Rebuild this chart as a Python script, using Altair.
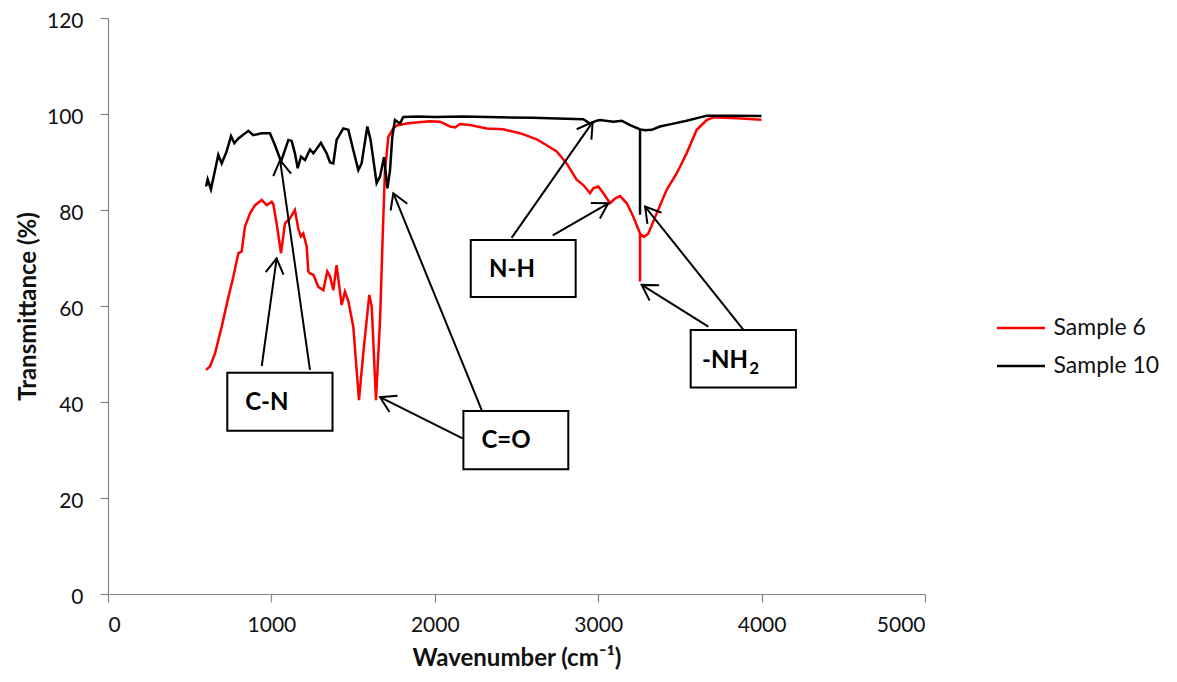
import math
import altair as alt
import pandas as pd

# ---------------- data ----------------
wn_s6 = [600, 624, 655, 696, 737, 767, 798, 818, 838, 869, 900, 941, 971, 1002, 1012,
         1032, 1059, 1083, 1114, 1144, 1165, 1181, 1195, 1216, 1226, 1236, 1257, 1287,
         1318, 1342, 1359, 1379, 1399, 1430, 1450, 1471, 1501, 1536, 1562, 1599, 1614,
         1640, 1665, 1681, 1695, 1716, 1746, 1767, 1828, 1900, 1971, 2032, 2093, 2124,
         2154, 2215, 2318, 2419, 2521, 2624, 2685, 2746, 2807, 2868, 2909, 2950, 2970,
         3001, 3032, 3072, 3103, 3134, 3175, 3215, 3256, 3256, 3256, 3280, 3307, 3358,
         3419, 3480, 3541, 3603, 3664, 3705, 3850, 3999]
tr_s6 = [46.7, 47.4, 50.1, 55.7, 61.9, 66.1, 71.0, 71.3, 76.5, 79.3, 81.0, 82.1, 81.0, 81.7, 81.2,
         77.2, 71.0, 77.2, 78.3, 80.0, 76.0, 74.5, 75.1, 72.4, 67.2, 66.8, 66.5, 64.0,
         63.3, 67.2, 66.1, 63.3, 68.5, 60.2, 63.0, 61.0, 55.7, 40.4, 50.1, 62.3, 59.9,
         40.4, 57.1, 74.4, 88.3, 95.3, 97.0, 97.6, 98.0, 98.3, 98.5, 98.4, 97.4, 97.2,
         97.9, 97.7, 97.0, 96.8, 96.0, 94.7, 93.5, 92.2, 89.7, 86.3, 85.2, 83.5, 84.5,
         84.9, 83.5, 81.4, 82.4, 82.9, 81.4, 78.6, 75.1, 65.1, 75.1, 74.4, 75.1, 79.3,
         84.2, 87.6, 91.8, 96.7, 98.75, 99.3, 99.1, 98.8]

wn_s10 = [600, 610, 630, 655, 675, 696, 726, 753, 773, 798, 859, 889, 941, 991, 1022,
          1059, 1104, 1124, 1144, 1161, 1181, 1206, 1236, 1257, 1303, 1338, 1359, 1379,
          1399, 1440, 1471, 1501, 1532, 1552, 1587, 1607, 1644, 1665, 1689, 1710, 1726,
          1740, 1756, 1787, 1807, 1900, 2000, 2175, 2400, 2600, 2800, 2909, 2950, 2991,
          3011, 3093, 3144, 3195, 3256, 3256, 3256, 3290, 3328, 3378, 3460, 3541, 3623,
          3664, 3827, 3999]
tr_s10 = [84.9, 86.4, 84.3, 88.3, 91.5, 89.7, 92.2, 95.4, 93.9, 94.9, 96.5, 95.6, 96.0, 96.0, 93.5,
          90.1, 94.6, 94.4, 91.8, 88.7, 91.1, 90.4, 92.6, 91.8, 94.0, 91.8, 89.9, 89.7,
          94.6, 97.0, 96.7, 92.5, 88.3, 89.7, 97.4, 94.6, 85.6, 87.0, 91.0, 84.5, 88.3,
          95.3, 98.75, 98.0, 99.4, 99.5, 99.4, 99.5, 99.3, 99.2, 99.0, 98.9, 98.0, 98.6,
          98.75, 98.4, 98.6, 97.7, 96.8, 79.0, 96.8, 96.6, 96.7, 97.4, 98.0, 98.6, 99.3,
          99.65, 99.65, 99.6]

series_names = ["Sample 6", "Sample 10"]
series_colors = ["#FF0000", "#000000"]

# annotation boxes (data units)
box_x1 = [730, 2175, 2220, 3566]
box_x2 = [1374, 2817, 2862, 4210]
box_y1 = [34.0, 26.0, 61.9, 43.0]
box_y2 = [46.1, 38.1, 73.75, 55.0]

# centred labels
lab_text = ["C-N", "C=O", "N-H"]
lab_x = [972, 2436, 2473]
lab_y = [38.3, 30.35, 66.1]
# -NH2 label (main part + subscript)
nh_text = ["-NH"]
nh_x = [3917]
nh_y = [47.0]
sub_text = ["2"]
sub_x = [3925]
sub_y = [45.8]

# arrows: tail -> tip
arr_x0 = [941, 1236, 2170, 2287, 2470, 2722, 3674, 3888]
arr_y0 = [47.5, 46.7, 32.4, 38.3, 74.2, 74.7, 55.7, 55.1]
arr_x1 = [1032, 1053, 1665, 1746, 2966, 3062, 3266, 3287]
arr_y1 = [69.9, 90.4, 41.0, 83.5, 98.3, 81.4, 64.4, 80.7]

x_ticks = [0, 1000, 2000, 3000, 4000, 5000]
y_ticks = [0, 20, 40, 60, 80, 100, 120]

# ---------------- chart ----------------
W, H = 817, 576
XMAX, YMAX = 5000, 120
FONT = "Lato"

rows = []
for i, (w, t) in enumerate(zip(wn_s6, tr_s6)):
    rows.append({"series": "Sample 6", "wn": w, "tr": t, "idx": i})
for i, (w, t) in enumerate(zip(wn_s10, tr_s10)):
    rows.append({"series": "Sample 10", "wn": w, "tr": t, "idx": i})
df = pd.DataFrame(rows)

xs = alt.Scale(domain=[0, XMAX], nice=False, zero=False)
ys = alt.Scale(domain=[0, YMAX], nice=False)
xaxis = alt.Axis(values=x_ticks, title="Wavenumber (cm⁻¹)", grid=False,
                 tickSize=8, labelPadding=12, titlePadding=11, format="d")
yaxis = alt.Axis(values=y_ticks, title="Transmittance (%)", grid=False,
                 tickSize=8, labelPadding=17, titlePadding=6, format="d", labelOffset=3)


def X(f):
    return alt.X(f, type="quantitative", scale=xs, axis=xaxis)


def Y(f):
    return alt.Y(f, type="quantitative", scale=ys, axis=yaxis)


lines = alt.Chart(df).mark_line(strokeWidth=2.5).encode(
    x=X("wn"),
    y=Y("tr"),
    color=alt.Color("series:N",
                    scale=alt.Scale(domain=series_names, range=series_colors),
                    sort=series_names,
                    legend=alt.Legend(title=None, orient="none", legendX=887.5, legendY=284.5,
                                      symbolType="stroke", symbolSize=2304, symbolStrokeWidth=2.5,
                                      labelFont=FONT, labelFontSize=23, labelColor="#111",
                                      labelOffset=7, rowPadding=-4, padding=0)),
    order=alt.Order("idx:Q"),
)

boxes_df = pd.DataFrame({"x1": box_x1, "x2": box_x2, "y1": box_y1, "y2": box_y2})
boxes = alt.Chart(boxes_df).mark_rect(fill="white", stroke="black", strokeWidth=2).encode(
    x=X("x1"), x2="x2", y=Y("y1"), y2="y2")

labs_df = pd.DataFrame({"t": lab_text, "x": lab_x, "y": lab_y})
labs = alt.Chart(labs_df).mark_text(font=FONT, fontWeight="bold", fontSize=24, align="center",
                                    baseline="alphabetic", color="black").encode(
    x=X("x"), y=Y("y"), text="t:N")

nh_df = pd.DataFrame({"t": nh_text, "x": nh_x, "y": nh_y})
nh = alt.Chart(nh_df).mark_text(font=FONT, fontWeight="bold", fontSize=24, align="right",
                                baseline="alphabetic", color="black").encode(
    x=X("x"), y=Y("y"), text="t:N")
sub_df = pd.DataFrame({"t": sub_text, "x": sub_x, "y": sub_y})
sub = alt.Chart(sub_df).mark_text(font=FONT, fontWeight="bold", fontSize=17, align="left",
                                  baseline="alphabetic", color="black").encode(
    x=X("x"), y=Y("y"), text="t:N")

angles = []
for x0, y0, x1, y1 in zip(arr_x0, arr_y0, arr_x1, arr_y1):
    dx = (x1 - x0) * W / XMAX
    dy = -(y1 - y0) * H / YMAX
    angles.append(math.degrees(math.atan2(dx, -dy)) % 360)

arr_df = pd.DataFrame({"x0": arr_x0, "y0": arr_y0, "x1": arr_x1, "y1": arr_y1, "ang": angles})
shafts = alt.Chart(arr_df).mark_rule(color="black", strokeWidth=2).encode(
    x=X("x0"), y=Y("y0"), x2="x1", y2="y1")
heads = alt.Chart(arr_df).mark_point(shape="M -0.6 1 L 0 0 L 0.6 1", filled=False,
                                     stroke="black", strokeWidth=2, size=900, opacity=1).encode(
    x=X("x1"), y=Y("y1"), angle=alt.Angle("ang:Q", scale=None))

chart = alt.layer(lines, shafts, heads, boxes, labs, nh, sub).properties(
    width=W, height=H,
    autosize=alt.AutoSizeParams(type="none"),
    padding={"left": 100, "top": 10, "right": 244, "bottom": 80},
).configure_view(stroke=None).configure_axis(
    labelFont=FONT, labelFontSize=21, labelColor="#111",
    titleFont=FONT, titleFontSize=24, titleFontWeight="bold", titleColor="#111",
    domainColor="#868686", tickColor="#868686", domainWidth=1.2, tickWidth=1.2,
)

chart.save("out.html", embed_options={"renderer": "svg", "actions": False})
